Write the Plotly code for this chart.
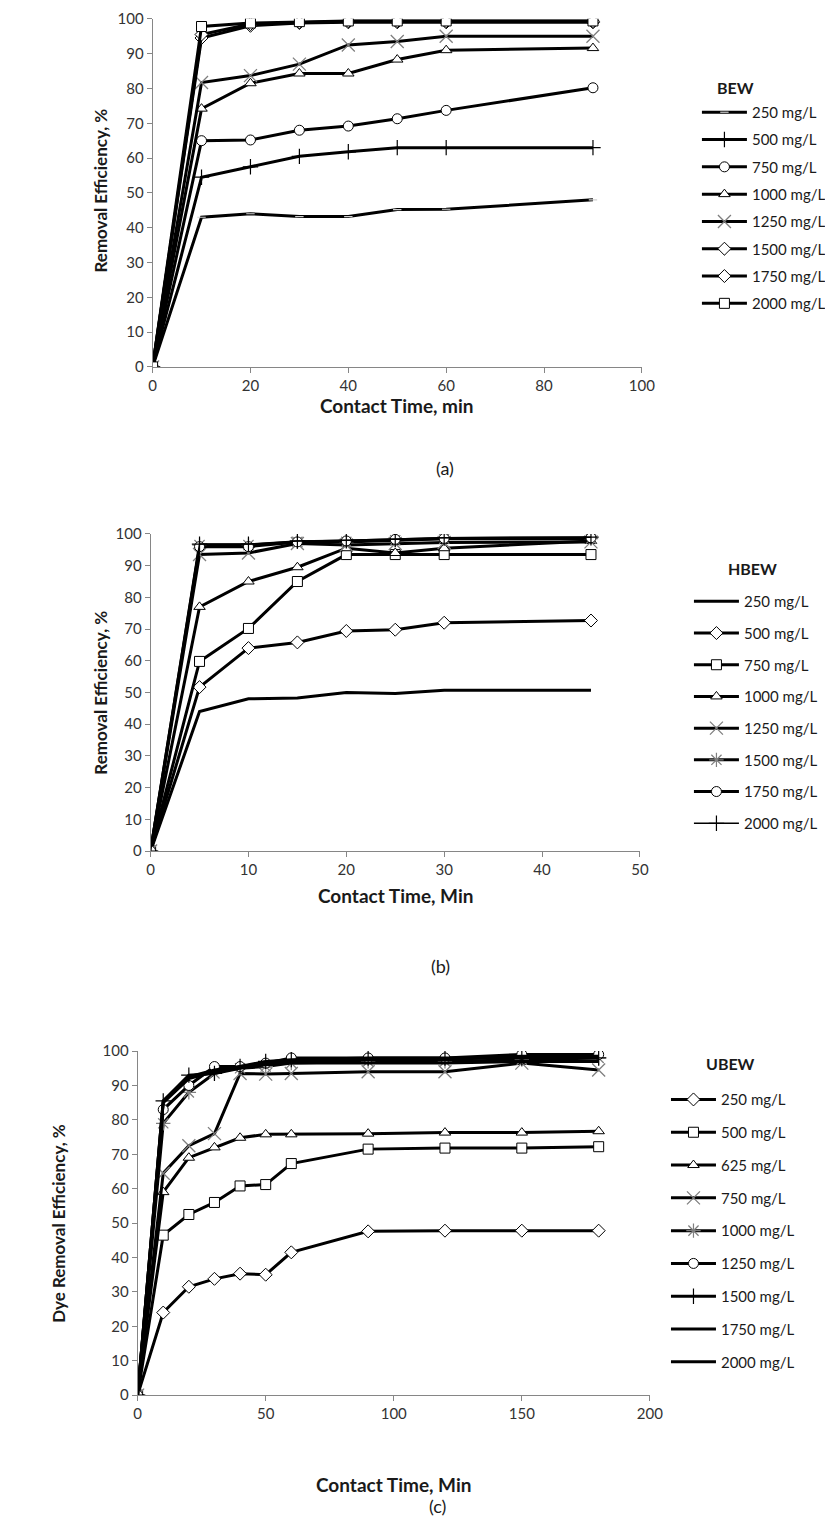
import plotly.graph_objects as go

W, H = 833, 1526
# empirical page transform (rendered = A + S * figure px)
AX0, SX = 11.2, 0.981
AY0, SY = 17.15, 0.988

# ---------------- data ----------------
series_names_a = ["250 mg/L", "500 mg/L", "750 mg/L", "1000 mg/L", "1250 mg/L",
                  "1500 mg/L", "1750 mg/L", "2000 mg/L"]
time_a = [0, 10, 20, 30, 40, 50, 60, 90]
bew_250 = [0, 43.0, 44.0, 43.2, 43.2, 45.2, 45.3, 48.0]
bew_500 = [0, 54.5, 57.5, 60.5, 61.8, 63.0, 63.0, 63.0]
bew_750 = [0, 65.0, 65.2, 68.0, 69.2, 71.3, 73.7, 80.2]
bew_1000 = [0, 74.2, 81.5, 84.3, 84.3, 88.3, 91.0, 91.6]
bew_1250 = [0, 81.7, 83.7, 87.0, 92.5, 93.5, 95.0, 95.0]
bew_1500 = [0, 94.5, 98.0, 98.8, 99.0, 99.0, 99.0, 99.0]
bew_1750 = [0, 95.5, 98.5, 99.0, 99.3, 99.3, 99.3, 99.3]
bew_2000 = [0, 97.8, 98.8, 99.2, 99.4, 99.4, 99.4, 99.4]

series_names_b = ["250 mg/L", "500 mg/L", "750 mg/L", "1000 mg/L", "1250 mg/L",
                  "1500 mg/L", "1750 mg/L", "2000 mg/L"]
time_b = [0, 5, 10, 15, 20, 25, 30, 45]
hbew_250 = [0, 44.0, 48.0, 48.3, 50.0, 49.7, 50.7, 50.7]
hbew_500 = [0, 51.7, 64.0, 65.8, 69.4, 69.8, 72.0, 72.7]
hbew_750 = [0, 59.8, 70.2, 85.0, 93.5, 93.5, 93.5, 93.5]
hbew_1000 = [0, 77.0, 85.0, 89.5, 95.5, 94.0, 95.5, 97.8]
hbew_1250 = [0, 93.5, 94.0, 97.0, 96.5, 97.0, 97.3, 97.5]
hbew_1500 = [0, 96.5, 96.5, 97.5, 97.5, 98.0, 98.5, 98.5]
hbew_1750 = [0, 96.0, 96.0, 97.5, 97.8, 98.3, 98.6, 98.8]
hbew_2000 = [0, 96.8, 96.8, 97.8, 98.0, 98.3, 98.8, 99.0]

series_names_c = ["250 mg/L", "500 mg/L", "625 mg/L", "750 mg/L", "1000 mg/L",
                  "1250 mg/L", "1500 mg/L", "1750 mg/L", "2000 mg/L"]
time_c = [0, 10, 20, 30, 40, 50, 60, 90, 120, 150, 180]
ubew_250 = [0, 24.0, 31.5, 33.8, 35.3, 35.0, 41.5, 47.6, 47.8, 47.8, 47.8]
ubew_500 = [0, 46.5, 52.5, 56.0, 60.8, 61.2, 67.3, 71.5, 71.8, 71.8, 72.2]
ubew_625 = [0, 59.0, 69.0, 72.0, 74.8, 75.8, 75.8, 76.0, 76.3, 76.3, 76.7]
ubew_750 = [0, 64.5, 72.5, 76.0, 93.5, 93.3, 93.5, 94.0, 94.0, 96.5, 94.5]
ubew_1000 = [0, 79.0, 88.0, 93.5, 95.0, 95.5, 96.5, 97.0, 97.0, 97.5, 98.0]
ubew_1250 = [0, 83.0, 90.0, 95.5, 95.5, 96.5, 98.0, 98.0, 98.0, 99.0, 99.0]
ubew_1500 = [0, 85.5, 93.0, 93.5, 95.5, 97.0, 97.5, 98.0, 98.0, 98.0, 98.0]
ubew_1750 = [0, 85.0, 92.0, 94.0, 95.0, 96.0, 96.5, 96.5, 96.5, 97.0, 97.0]
ubew_2000 = [0, 85.5, 92.5, 94.5, 95.5, 96.5, 97.0, 97.5, 97.5, 98.5, 98.5]

# ---------------- styles ----------------
FONT = "Lato"
TXT = "#1a1a1a"
TICK = "#333333"
AXC = "#868686"
GRAY = "#7f7f7f"

def mk(symbol, size=9, color="white", lcolor="black", lw=1):
    return dict(symbol=symbol, size=size, color=color, line=dict(color=lcolor, width=lw))

STY = {
    "none": dict(mode="lines", marker=None),
    "dash": dict(mode="lines+markers", marker=mk("line-ew", 6, "#d0d0d0", "#d0d0d0", 1.2)),
    "plus": dict(mode="lines+markers", marker=mk("cross-thin", 11, "black", "black", 1.2)),
    "circle": dict(mode="lines+markers", marker=mk("circle", 10)),
    "triangle": dict(mode="lines+markers", marker=mk("triangle-up", 10)),
    "x": dict(mode="lines+markers", marker=mk("x-thin", 13, GRAY, GRAY, 1.3)),
    "diamond": dict(mode="lines+markers", marker=mk("diamond", 10)),
    "square": dict(mode="lines+markers", marker=mk("square", 10)),
    "asterisk": dict(mode="lines+markers", marker=mk("asterisk", 12, GRAY, GRAY, 1.2)),
}

fig = go.Figure()

def add(x, y, name, style, xa, ya, leg, lw=3):
    s = STY[style]
    kw = dict(x=x, y=y, name=name, mode=s["mode"], xaxis=xa, yaxis=ya,
              legend=leg, legendgroup=leg + name,
              line=dict(color="black", width=lw))
    if s["marker"] is not None:
        kw["marker"] = s["marker"]
    fig.add_trace(go.Scatter(**kw))

panel_a = [bew_250, bew_500, bew_750, bew_1000, bew_1250, bew_1500, bew_1750, bew_2000]
styles_a = ["dash", "plus", "circle", "triangle", "x", "diamond", "diamond", "square"]
for n, v, st in zip(series_names_a, panel_a, styles_a):
    add(time_a, v, n, st, "x", "y", "legend")

panel_b = [hbew_250, hbew_500, hbew_750, hbew_1000, hbew_1250, hbew_1500, hbew_1750, hbew_2000]
styles_b = ["none", "diamond", "square", "triangle", "x", "asterisk", "circle", "plus"]
widths_b = [3, 3, 3, 3, 3, 3, 3, 1.5]
for n, v, st, w in zip(series_names_b, panel_b, styles_b, widths_b):
    add(time_b, v, n, st, "x2", "y2", "legend2", lw=w)

panel_c = [ubew_250, ubew_500, ubew_625, ubew_750, ubew_1000, ubew_1250, ubew_1500, ubew_1750, ubew_2000]
styles_c = ["diamond", "square", "triangle", "x", "asterisk", "circle", "plus", "none", "none"]
for n, v, st in zip(series_names_c, panel_c, styles_c):
    add(time_c, v, n, st, "x3", "y3", "legend3")

# ---------------- geometry (target pixels -> paper) ----------------
def dxp(p):
    return (p - AX0) / SX

def dyp(p):
    return (p - AY0) / SY

def px_x(p):
    return dxp(p) / W

def px_y(p):
    return 1 - dyp(p) / H

axcommon = dict(showline=True, linecolor=AXC, linewidth=1, ticks="outside", ticklen=5,
                tickcolor=AXC, showgrid=False, zeroline=False,
                tickfont=dict(family=FONT, size=15, color=TICK))

panels = [
    # xaxis, yaxis, left, right, top, bottom, xmax, dtick
    ("xaxis", "yaxis", 152, 642, 18, 366, 100, 20),
    ("xaxis2", "yaxis2", 150, 640, 533, 850, 50, 10),
    ("xaxis3", "yaxis3", 137, 650, 1050, 1394, 200, 50),
]
lay = {}
for i, (xk, yk, l, r, t, b, xmax, dt) in enumerate(panels):
    ya_name = "y" if i == 0 else f"y{i+1}"
    xa_name = "x" if i == 0 else f"x{i+1}"
    lay[xk] = dict(domain=[px_x(l), px_x(r)], range=[0, xmax], dtick=dt, tick0=0,
                   anchor=ya_name, **axcommon)
    lay[yk] = dict(domain=[px_y(b), px_y(t)], range=[0, 100], dtick=10, tick0=0,
                   anchor=xa_name, **axcommon)

annotations = []
def ann(text, x, y, size, bold=False, angle=0):
    annotations.append(dict(text=f"<b>{text}</b>" if bold else text, x=px_x(x), y=px_y(y),
                            xref="paper", yref="paper", showarrow=False, textangle=angle,
                            font=dict(family=FONT, size=size, color=TXT),
                            xanchor="center", yanchor="middle"))

# axis titles
ann("Contact Time, min", 397, 405, 19, True)
ann("Removal Efficiency, %", 100, 190, 17, True, -90)
ann("Contact Time, Min", 395, 894, 19, True)
ann("Removal Efficiency, %", 100, 692, 17, True, -90)
ann("Contact Time, Min", 393, 1483, 19, True)
ann("Dye Removal Efficiency, %", 57, 1222, 17, True, -90)
# captions
ann("(a)", 445, 467, 18)
ann("(b)", 440, 965, 18)
ann("(c)", 437, 1505, 18)
# legend titles
ann("BEW", 736, 87, 16, True)
ann("HBEW", 753, 568, 16, True)
ann("UBEW", 731, 1062, 16, True)

legcommon = dict(bgcolor="rgba(0,0,0,0)", font=dict(family=FONT, size=15, color=TXT),
                 itemwidth=45, xanchor="left", yanchor="top", traceorder="grouped")

def leg_x(line_start):
    return (dxp(line_start) - 6) / W

def leg_y(first_center):
    return 1 - (dyp(first_center) - 18.1) / H

fig.update_layout(
    width=W, height=H, margin=dict(l=0, r=0, t=0, b=0),
    paper_bgcolor="white", plot_bgcolor="white", showlegend=True,
    annotations=annotations,
    legend=dict(x=leg_x(703), y=leg_y(113), tracegroupgap=4.8, **legcommon),
    legend2=dict(x=leg_x(695), y=leg_y(602), tracegroupgap=9.2, **legcommon),
    legend3=dict(x=leg_x(672), y=leg_y(1100), tracegroupgap=10.3, **legcommon),
    **lay,
)

fig.write_html("out.html")
